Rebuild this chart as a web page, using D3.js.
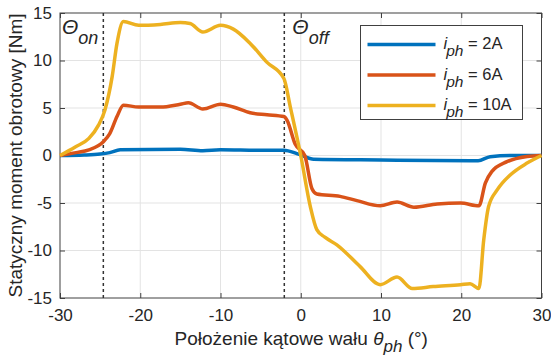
<!DOCTYPE html>
<html>
<head>
<meta charset="utf-8">
<script src="https://cdn.jsdelivr.net/npm/d3@7"></script>
<style>
  body { margin: 0; background: #fff; }
  text { font-family: "Liberation Sans", Arial, Helvetica, sans-serif; fill: #262626; }
</style>
</head>
<body>
<div id="chart"></div>
<script>
// data (angle in degrees, torque in Nm)
const ang2 = [-30, -27, -25, -23.8, -22.5, -15, -12.2, -10, -5, -2.1, -0.5, 0, 1.6, 10, 22.1, 23.6, 26.1, 30];
const t2   = [0, 0.05, 0.15, 0.3, 0.6, 0.65, 0.5, 0.6, 0.55, 0.55, 0.2, 0.05, -0.4, -0.47, -0.55, -0.13, 0, 0];

const ang6 = [-30, -28, -26.4, -24.6, -23.8, -22.9, -22.1, -20.2, -17.5, -15, -14, -12.2, -10, -8.4, -6.3, -4.2, -2.1, -1.7, -0.7, 0.5, 1.4, 2.0, 4.9, 7.0, 9.9, 12, 14.1, 17, 19.9, 22.2, 23, 23.8, 25.7, 28.2, 30];
const t6   = [0, 0.3, 0.6, 1.45, 2.3, 4.1, 5.3, 5.1, 5.1, 5.4, 5.55, 4.9, 5.4, 5.1, 4.5, 4.3, 4.1, 3.7, 1.2, 0, -3.5, -4.05, -4.3, -4.75, -5.3, -4.9, -5.45, -5.1, -5.0, -5.3, -2.9, -1.7, -0.65, -0.1, 0];

const ang10 = [-30, -28.1, -26.4, -25.2, -24.4, -23.5, -22.9, -22.1, -20.2, -17.5, -15, -13.8, -12.2, -10, -8.4, -6.3, -4.2, -2.1, -1.3, 0, 1.2, 2.0, 3.0, 4.5, 7.4, 9.9, 12, 13.9, 16.5, 19.9, 21.1, 22.2, 22.8, 23.4, 24.5, 26.1, 28.2, 30];
const t10   = [0, 0.9, 1.8, 3.2, 4.8, 8.3, 11.8, 14.1, 13.7, 13.8, 14.0, 13.9, 13.0, 13.7, 13.3, 11.8, 9.8, 8.1, 5.1, 0, -5.4, -7.8, -8.6, -9.4, -11.7, -13.6, -12.8, -14.0, -13.8, -13.6, -13.5, -14.0, -8.9, -5.4, -3.6, -2.05, -0.8, 0];

const seriesNames = ["2A", "6A", "10A"];
const seriesColors = ["#0072BD", "#D95319", "#EDB120"];
const xTicks = [-30, -20, -10, 0, 10, 20, 30];
const yTicks = [-15, -10, -5, 0, 5, 10, 15];
const thetaOn = -24.6, thetaOff = -2.05;

const W = 551, H = 356;
const margin = {top: 13, right: 9.5, bottom: 58, left: 60};
const width = W - margin.left - margin.right;
const height = H - margin.top - margin.bottom;

let svg = d3.select("#chart").append("svg")
  .attr("width", W)
  .attr("height", H);

let graph = svg.append("g")
  .attr("transform", "translate(" + margin.left + "," + margin.top + ")");

let x = d3.scaleLinear().domain([-30, 30]).range([0, width]);
let y = d3.scaleLinear().domain([-15, 15]).range([height, 0]);

// grid
graph.append("g").selectAll("line").data(xTicks.slice(1, -1)).enter().append("line")
  .attr("x1", d => x(d)).attr("x2", d => x(d))
  .attr("y1", 0).attr("y2", height)
  .attr("stroke", "#e3e3e3").attr("stroke-width", 1);
graph.append("g").selectAll("line").data(yTicks.slice(1, -1)).enter().append("line")
  .attr("y1", d => y(d)).attr("y2", d => y(d))
  .attr("x1", 0).attr("x2", width)
  .attr("stroke", "#e3e3e3").attr("stroke-width", 1);

// axes (inward ticks on all four sides), plain hyphen for negatives
const fmt = d => String(d);
function styleAxis(g) {
  g.select(".domain").remove();
  g.selectAll(".tick line").attr("stroke", "#404040");
  g.selectAll("text").attr("fill", "#262626").style("font-size", "17px")
    .style("font-family", '"Liberation Sans", Arial, sans-serif');
}
graph.append("g").attr("transform", "translate(0," + height + ")")
  .call(d3.axisBottom(x).tickValues(xTicks).tickFormat(fmt).tickSizeInner(-5).tickSizeOuter(0).tickPadding(11))
  .call(styleAxis);
graph.append("g")
  .call(d3.axisTop(x).tickValues(xTicks).tickSizeInner(-5).tickSizeOuter(0).tickFormat(""))
  .call(styleAxis);
graph.append("g")
  .call(d3.axisLeft(y).tickValues(yTicks).tickFormat(fmt).tickSizeInner(-5).tickSizeOuter(0).tickPadding(8))
  .call(styleAxis);
graph.append("g").attr("transform", "translate(" + width + ",0)")
  .call(d3.axisRight(y).tickValues(yTicks).tickSizeInner(-5).tickSizeOuter(0).tickFormat(""))
  .call(styleAxis);

graph.append("rect")
  .attr("x", 0).attr("y", 0).attr("width", width).attr("height", height)
  .attr("fill", "none").attr("stroke", "#404040").attr("stroke-width", 1);

// theta on / off markers
graph.append("g").selectAll("line").data([thetaOn, thetaOff]).enter().append("line")
  .attr("x1", d => x(d)).attr("x2", d => x(d))
  .attr("y1", 0).attr("y2", height)
  .attr("stroke", "#333").attr("stroke-width", 1.5).attr("stroke-dasharray", "3,3");

function thetaLabel(xPos, sub) {
  let t = graph.append("text").attr("x", xPos).attr("y", 20.5)
    .style("font-style", "italic");
  t.append("tspan").style("font-size", "21px").text("Θ");
  t.append("tspan").attr("dy", 10).style("font-size", "18px").text(sub);
}
thetaLabel(2, "on");
thetaLabel(x(thetaOff) + 8, "off");

// lines
const seriesData = [
  ang2.map((a, i) => ({a: a, t: t2[i]})),
  ang6.map((a, i) => ({a: a, t: t6[i]})),
  ang10.map((a, i) => ({a: a, t: t10[i]}))
];
let valueline = d3.line()
  .x(d => x(d.a))
  .y(d => y(d.t))
  .curve(d3.curveMonotoneX);

graph.append("g").selectAll("path").data(seriesData).enter().append("path")
  .attr("fill", "none")
  .attr("stroke", (d, i) => seriesColors[i])
  .attr("stroke-width", 3.5)
  .attr("stroke-linejoin", "round")
  .attr("d", valueline);

// legend
let legend = svg.append("g").attr("transform", "translate(360.5,25.5)");
legend.append("rect").attr("width", 162).attr("height", 94)
  .attr("fill", "#fff").attr("stroke", "#404040").attr("stroke-width", 1);
seriesNames.forEach((name, i) => {
  let ry = 19 + i * 30.5;
  legend.append("line").attr("x1", 7).attr("x2", 75).attr("y1", ry).attr("y2", ry)
    .attr("stroke", seriesColors[i]).attr("stroke-width", 3.5);
  let t = legend.append("text").attr("x", 83).attr("y", ry + 4.5).style("font-size", "16.5px");
  t.append("tspan").style("font-style", "italic").text("i");
  t.append("tspan").attr("dx", -1).attr("dy", 7).style("font-style", "italic").style("font-size", "15.5px").text("ph");
  t.append("tspan").attr("dy", -7).text(" = " + name);
});

// axis labels
let xl = svg.append("text")
  .attr("x", margin.left + width / 2 + 0.5).attr("y", 345)
  .attr("text-anchor", "middle").style("font-size", "19px");
xl.append("tspan").text("Położenie kątowe wału ");
xl.append("tspan").style("font-style", "italic").text("θ");
xl.append("tspan").attr("dy", 7).style("font-style", "italic").style("font-size", "17px").text("ph");
xl.append("tspan").attr("dy", -7).text(" (°)");

svg.append("text")
  .attr("transform", "translate(22," + (margin.top + height / 2) + ") rotate(-90)")
  .attr("text-anchor", "middle").style("font-size", "19px")
  .text("Statyczny moment obrotowy [Nm]");
</script>
</body>
</html>
